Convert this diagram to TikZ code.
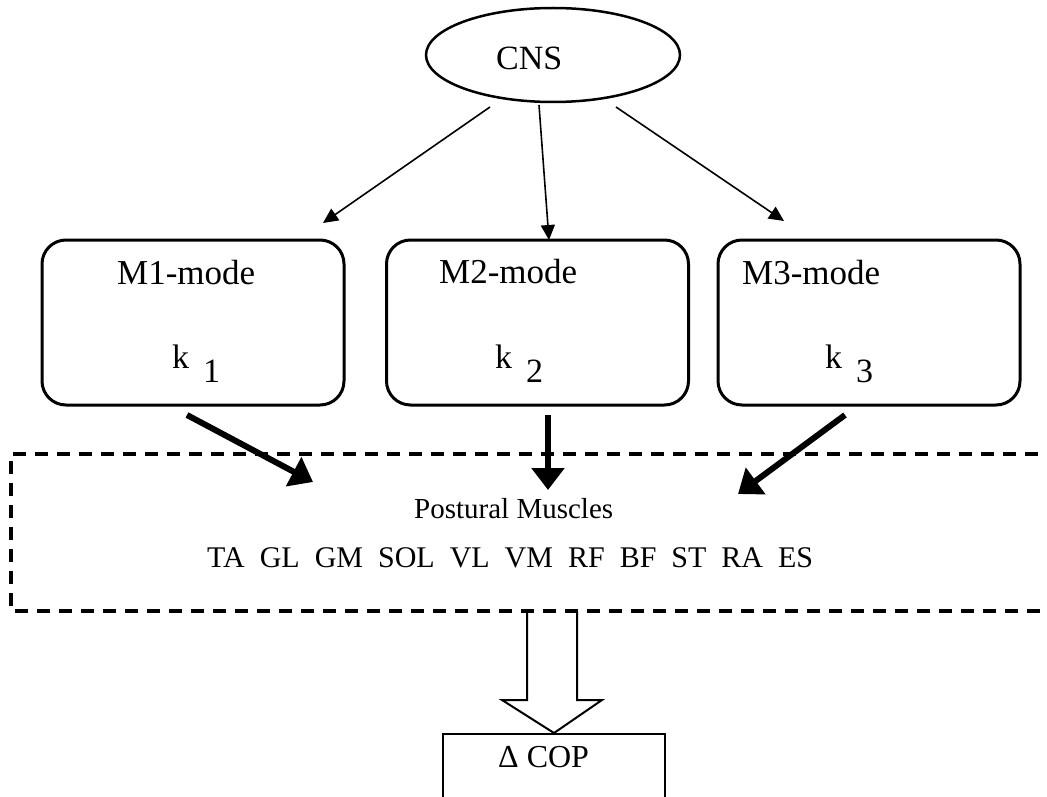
\documentclass[tikz,border=0pt]{standalone}
\usepackage{fontspec}
\setmainfont{Liberation Serif}
\usetikzlibrary{arrows.meta,shapes.geometric}
\begin{document}
\begin{tikzpicture}[x=1pt,y=-1pt,
  lbl/.style={anchor=base west,inner sep=0pt,font=\fontsize{35}{40}\selectfont},
  modebox/.style={draw,line width=3pt,rounded corners=24pt,minimum width=302pt,minimum height=165pt,inner sep=0pt},
  thinarrow/.style={line width=1.6pt,-{Triangle[length=15pt,width=14pt]}},
  thickarrow/.style={line width=6pt,-{Triangle[length=22pt,width=32pt]}},
  dashbox/.style={line width=3.5pt,dash pattern=on 13pt off 9pt}]
\clip (0,0) rectangle (1047,797);
% CNS
\node[draw,ellipse,line width=2.5pt,minimum width=254pt,minimum height=94pt,inner sep=0pt] (cns) at (553,55) {};
\node[lbl,font=\fontsize{34}{40}\selectfont] (cnst) at (496,70) {CNS};
% mode boxes
\node[modebox] (m1) at (193,322.5) {};
\node[modebox] (m2) at (537.5,322.5) {};
\node[modebox] (m3) at (869,322.5) {};
\node[lbl] (m1t) at (117,284) {M1-mode};
\node[lbl] (m2t) at (439,283) {M2-mode};
\node[lbl] (m3t) at (742,284) {M3-mode};
\node[lbl,font=\fontsize{34}{40}\selectfont] (k1) at (172,368) {k\hspace{14pt}\raisebox{-14pt}{1}};
\node[lbl,font=\fontsize{34}{40}\selectfont] (k2) at (495,368) {k\hspace{14pt}\raisebox{-14pt}{2}};
\node[lbl,font=\fontsize{34}{40}\selectfont] (k3) at (825,368) {k\hspace{14pt}\raisebox{-14pt}{3}};
% thin arrows
\coordinate (s1) at (490,107); \coordinate (e1) at (323,223);
\coordinate (s2) at (539,105); \coordinate (e2) at (549,240);
\coordinate (s3) at (616,107); \coordinate (e3) at (784,221);
\draw[thinarrow] (s1) -- (e1);
\draw[thinarrow] (s2) -- (e2);
\draw[thinarrow] (s3) -- (e3);
% dashed region
\draw[dashbox] (1060,454) -- (11,454) -- (11,611) -- (1060,611);
\node[lbl,font=\fontsize{29}{34}\selectfont] (pm) at (414,518) {Postural Muscles};
\node[lbl,font=\fontsize{30}{34}\selectfont] (mus) at (207,567) {TA\hspace{0.5em}GL\hspace{0.5em}GM\hspace{0.5em}SOL\hspace{0.5em}VL\hspace{0.5em}VM\hspace{0.5em}RF\hspace{0.5em}BF\hspace{0.5em}ST\hspace{0.5em}RA\hspace{0.5em}ES};
% thick arrows
\coordinate (t1s) at (187,415); \coordinate (t1e) at (313,482);
\coordinate (t2s) at (548,415); \coordinate (t2e) at (548,490);
\coordinate (t3s) at (845,415); \coordinate (t3e) at (738,494);
\draw[thickarrow] (t1s) -- (t1e);
\draw[thickarrow] (t2s) -- (t2e);
\draw[thickarrow] (t3s) -- (t3e);
% COP box
\node[draw,line width=2pt,minimum width=222pt,minimum height=100pt,anchor=north,inner sep=0pt] (cop) at (554,733) {};
\node[lbl,font=\fontsize{32}{36}\selectfont] (copt) at (498,767) {Δ COP};
% hollow arrow
\draw[line width=2pt,line join=miter] (527,611) -- (527,700) -- (502,700) -- (cop.north) -- (602,700) -- (577,700) -- (577,611);
\end{tikzpicture}
\end{document}
